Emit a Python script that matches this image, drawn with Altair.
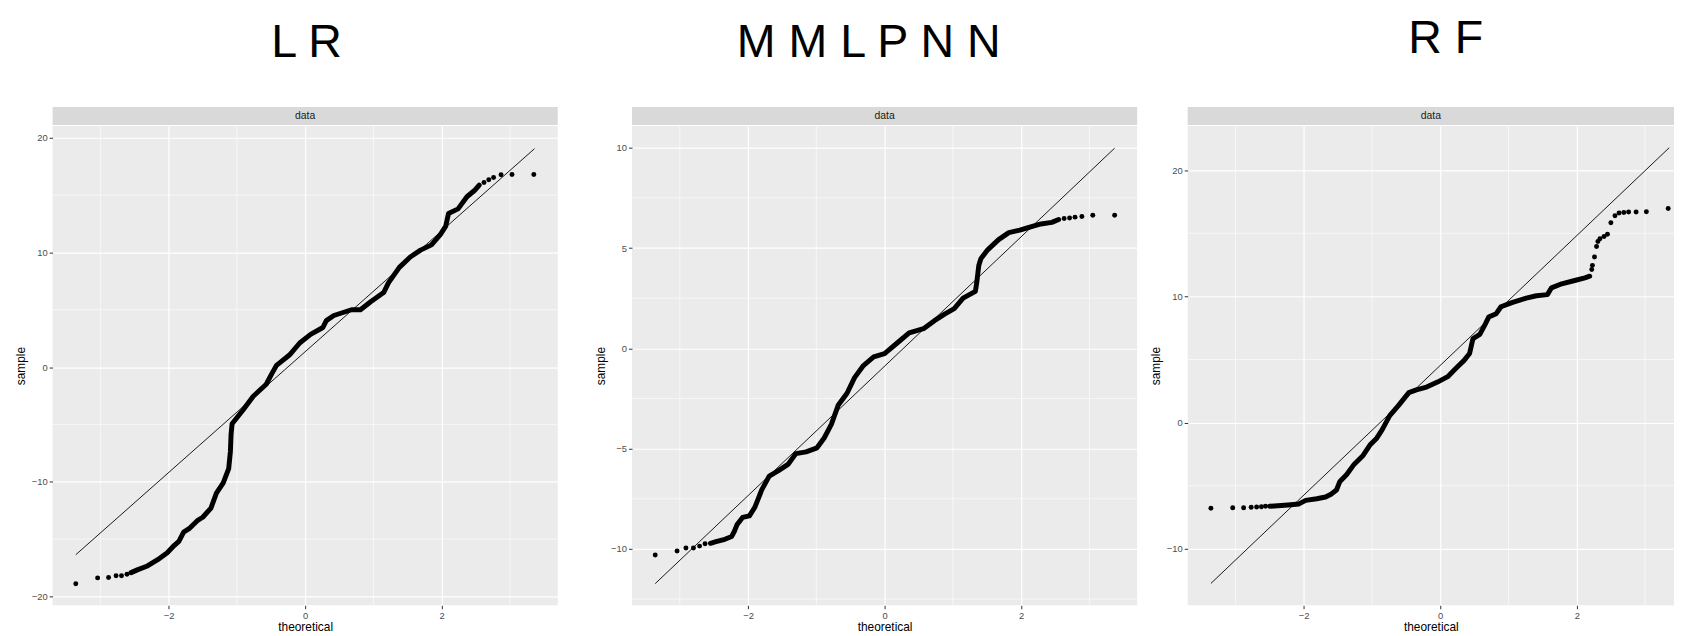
import altair as alt
import pandas as pd

FONT = "Liberation Sans"

titles = ["L R", "M M L P N N", "R F"]
strip_label = "data"
x_title = "theoretical"
y_title = "sample"

x_major = [-2, 0, 2]
x_minor = [-3, -1, 1, 3]

# ---------------- Panel 1 : L R ----------------
lr_y_major = [-20, -10, 0, 10, 20]
lr_y_minor = [-15, -5, 5, 15]
lr_line_x = [-3.36, 3.36]
lr_line_y = [-16.37, 19.05]
lr_dot_x = [-3.36, -3.04, -2.88, -2.77, -2.69, -2.61, 2.62, 2.69, 2.76, 2.87, 3.03, 3.35]
lr_dot_y = [-18.9, -18.39, -18.36, -18.21, -18.21, -18.07, 16.1, 16.34, 16.54, 16.78, 16.8, 16.8]
lr_band_x = [-2.55, -2.45, -2.31, -2.16, -2.02, -1.92, -1.85, -1.78, -1.70, -1.58, -1.50, -1.38,
             -1.30, -1.20, -1.12, -1.095, -1.085, -1.07, -0.91, -0.76, -0.57, -0.49, -0.42,
             -0.23, -0.08, 0.08, 0.26, 0.31, 0.42, 0.68, 0.81, 0.96, 1.15, 1.22, 1.38, 1.54,
             1.69, 1.85, 1.98, 2.06, 2.10, 2.24, 2.37, 2.48, 2.55]
lr_band_y = [-17.93, -17.67, -17.35, -16.8, -16.2, -15.57, -15.2, -14.4, -14.1, -13.4, -13.1, -12.3,
             -11.0, -10.1, -8.86, -7.36, -5.86, -4.95, -3.75, -2.55, -1.50, -0.60, 0.15,
             1.05, 2.1, 2.85, 3.45, 4.05, 4.5, 5.0, 5.0, 5.7, 6.5, 7.35, 8.7, 9.6,
             10.2, 10.66, 11.56, 12.3, 13.4, 13.8, 14.86, 15.4, 15.88]

# ---------------- Panel 2 : M M L P N N ----------------
mm_y_major = [-10, -5, 0, 5, 10]
mm_y_minor = [-12.5, -7.5, -2.5, 2.5, 7.5]
mm_line_x = [-3.36, 3.37]
mm_line_y = [-11.73, 9.98]
mm_dot_x = [-3.36, -3.04, -2.91, -2.80, -2.71, -2.63, 2.63, 2.71, 2.79, 2.89, 3.05, 3.37]
mm_dot_y = [-10.3, -10.1, -9.95, -9.95, -9.86, -9.74, 6.47, 6.5, 6.54, 6.57, 6.63, 6.63]
mm_band_x = [-2.55, -2.47, -2.34, -2.24, -2.20, -2.16, -2.08, -1.98, -1.90, -1.85, -1.80, -1.69,
             -1.56, -1.41, -1.30, -1.15, -0.99, -0.885, -0.78, -0.68, -0.55, -0.44, -0.31,
             -0.16, 0.0, 0.21, 0.36, 0.57, 0.73, 0.885, 1.02, 1.15, 1.33, 1.35, 1.38, 1.41,
             1.51, 1.67, 1.82, 1.98, 2.14, 2.29, 2.45, 2.55]
mm_band_y = [-9.72, -9.64, -9.52, -9.38, -9.12, -8.78, -8.43, -8.35, -7.92, -7.49, -7.06, -6.37,
             -6.11, -5.77, -5.25, -5.16, -4.96, -4.47, -3.79, -2.84, -2.24, -1.46, -0.86,
             -0.43, -0.26, 0.34, 0.77, 0.98, 1.38, 1.72, 1.98, 2.50, 2.84, 3.27, 4.13, 4.47,
             4.91, 5.42, 5.77, 5.89, 6.06, 6.20, 6.28, 6.42]

# ---------------- Panel 3 : R F ----------------
rf_y_major = [-10, 0, 10, 20]
rf_y_minor = [-5, 5, 15]
rf_line_x = [-3.36, 3.355]
rf_line_y = [-12.74, 21.78]
rf_dot_x = [-3.36, -3.04, -2.88, -2.77, -2.69, -2.62, -2.56,
            2.22, 2.23, 2.26, 2.29, 2.31, 2.34, 2.40, 2.45, 2.50, 2.56, 2.62, 2.69, 2.76,
            2.87, 3.02, 3.34]
rf_dot_y = [-6.79, -6.74, -6.74, -6.71, -6.68, -6.66, -6.63,
            12.13, 12.46, 13.12, 13.96, 14.35, 14.56, 14.74, 14.92, 15.84, 16.39, 16.6, 16.65,
            16.68, 16.68, 16.7, 16.96]
rf_band_x = [-2.50, -2.43, -2.23, -2.07, -1.97, -1.81, -1.68, -1.60, -1.52, -1.47, -1.37, -1.26,
             -1.13, -1.03, -0.93, -0.85, -0.74, -0.61, -0.46, -0.35, -0.20, -0.04, 0.11, 0.22,
             0.35, 0.43, 0.48, 0.58, 0.66, 0.71, 0.82, 0.89, 1.05, 1.26, 1.41, 1.57, 1.63,
             1.78, 1.97, 2.12, 2.19]
rf_band_y = [-6.62, -6.60, -6.52, -6.44, -6.16, -6.03, -5.89, -5.67, -5.34, -4.66, -4.11, -3.29,
             -2.60, -1.78, -1.23, -0.55, 0.55, 1.37, 2.38, 2.60, 2.82, 3.21, 3.64, 4.25,
             4.93, 5.48, 6.66, 6.99, 7.81, 8.36, 8.63, 9.18, 9.51, 9.86, 10.05, 10.14, 10.68,
             11.0, 11.26, 11.47, 11.6]

PANEL_BG = "#EBEBEB"
STRIP_BG = "#D9D9D9"


def make_column(title, t_dx, t_dy, width, xdom, ydom, y_major, y_minor,
                band_x, band_y, dot_x, dot_y, line_x, line_y):
    xs = alt.Scale(domain=xdom, nice=False, zero=False)
    ys = alt.Scale(domain=ydom, nice=False, zero=False)
    axis_common = dict(
        grid=True, gridColor="white", gridWidth=1.2, domain=False,
        tickColor="#333333", tickSize=3.5, tickWidth=1,
        labelColor="#4D4D4D", labelFont=FONT, labelFontSize=9.5, labelPadding=2,
        labelFlush=False,
        titleFont=FONT, titleFontSize=12, titleFontWeight="normal",
        titleColor="black",
    )
    x_axis = alt.Axis(values=x_major, title=x_title, titlePadding=1, **axis_common)
    y_axis = alt.Axis(values=y_major, title=y_title, titlePadding=3.5, **axis_common)

    band = pd.DataFrame({"theoretical": band_x, "sample": band_y})
    dots = pd.DataFrame({"theoretical": dot_x, "sample": dot_y})
    line = pd.DataFrame({"theoretical": line_x, "sample": line_y})

    X = alt.X("theoretical:Q", scale=xs, axis=x_axis)
    Y = alt.Y("sample:Q", scale=ys, axis=y_axis)

    gx = alt.Chart(pd.DataFrame({"theoretical": x_minor})).mark_rule(
        color="white", strokeWidth=0.6).encode(x=X)
    gy = alt.Chart(pd.DataFrame({"sample": y_minor})).mark_rule(
        color="white", strokeWidth=0.6).encode(y=Y)

    line_mark = alt.Chart(line).mark_line(color="black", strokeWidth=0.9).encode(x=X, y=Y)
    band_mark = alt.Chart(band).mark_line(
        color="black", strokeWidth=5, strokeCap="round", strokeJoin="round").encode(x=X, y=Y)
    dot_mark = alt.Chart(dots).mark_circle(color="black", size=25, opacity=1).encode(x=X, y=Y)

    plot = alt.layer(gx, gy, line_mark, band_mark, dot_mark).properties(
        width=width, height=484,
        view=alt.ViewBackground(fill=PANEL_BG, strokeWidth=0),
    )

    strip = alt.Chart(pd.DataFrame({"s": [strip_label]})).mark_text(
        font=FONT, fontSize=10.5, color="#1A1A1A").encode(
        text=alt.Text("s:N")).properties(
        width=width, height=18,
        view=alt.ViewBackground(fill=STRIP_BG, strokeWidth=0))

    head = alt.Chart(pd.DataFrame({"t": [title]})).mark_text(
        font=FONT, fontSize=47, color="black", baseline="alphabetic",
        dx=t_dx, dy=t_dy).encode(
        text=alt.Text("t:N")).properties(
        width=width, height=90,
        view=alt.ViewBackground(strokeWidth=0))

    return alt.vconcat(head, strip, plot, spacing=0)


XD = [-3.70, 3.70]
col1 = make_column(titles[0], 1.5, -6, 510, XD, [-20.78, 21.04], lr_y_major, lr_y_minor,
                   lr_band_x, lr_band_y, lr_dot_x, lr_dot_y, lr_line_x, lr_line_y)
col2 = make_column(titles[1], -16, -6, 510, XD, [-12.81, 11.09], mm_y_major, mm_y_minor,
                   mm_band_x, mm_band_y, mm_dot_x, mm_dot_y, mm_line_x, mm_line_y)
col3 = make_column(titles[2], 15, -10, 491, [-3.70, 3.425], [-14.47, 23.51], rf_y_major, rf_y_minor,
                   rf_band_x, rf_band_y, rf_dot_x, rf_dot_y, rf_line_x, rf_line_y)

spacer = alt.Chart(pd.DataFrame({"s": [""]})).mark_text().encode(
    text=alt.Text("s:N")).properties(
    width=13, height=10, view=alt.ViewBackground(fill="white", strokeWidth=0))

chart = alt.hconcat(col1, spacer, col2, col3, spacing=11).properties(
    padding={"left": 6, "top": 4, "right": 0, "bottom": 0},
    background="white",
).configure_view(strokeWidth=0)

chart.save("out.html", embed_options={"renderer": "svg", "actions": False})
